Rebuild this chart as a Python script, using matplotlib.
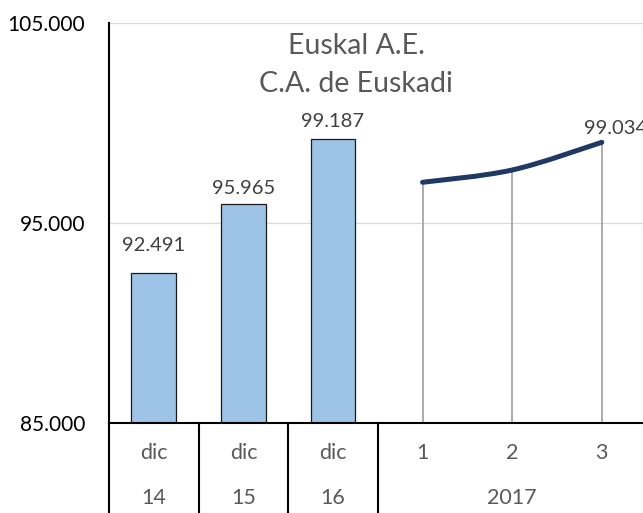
import matplotlib
matplotlib.use("Agg")
import matplotlib.pyplot as plt
from matplotlib.path import Path
from matplotlib.patches import PathPatch

plt.rcParams['font.family'] = ['Lato', 'DejaVu Sans']

# Data
bar_months = ["dic", "dic", "dic"]
bar_years = ["14", "15", "16"]
bar_values = [92491, 95965, 99187]
line_months = ["1", "2", "3"]
line_year = "2017"
line_values = [97035, 97650, 99034]
y_ticks = [85000, 95000, 105000]
title_lines = ["Euskal A.E.", "C.A. de Euskadi"]

def fmt(v):
    return f"{v:,.0f}".replace(",", ".")

W, H = 643, 513
fig = plt.figure(figsize=(W / 100, H / 100), dpi=100)
ax = fig.add_axes([109 / W, (H - 423) / H, (646.6 - 109) / W, 400 / H])

n_bar = len(bar_values)
bar_x = list(range(n_bar))
line_x = [n_bar + i for i in range(len(line_values))]

ax.set_xlim(-0.5, n_bar + len(line_values) - 0.5)
ax.set_ylim(y_ticks[0], y_ticks[-1])

# grid
for t in y_ticks[1:]:
    ax.axhline(t, color="#D9D9D9", lw=0.9, zorder=0)

# bars
ax.bar(bar_x, bar_values, width=0.5, color="#9DC3E6", edgecolor="#1a1a1a",
       linewidth=0.9, zorder=2)
label_offsets = [20, 11, 12.5]  # points above bar top
for x, v, off in zip(bar_x, bar_values, label_offsets):
    ax.annotate(fmt(v), (x, v), xytext=(0, off), textcoords="offset points",
                ha="center", va="center", fontsize=14.5, color="#404040")

# drop lines
for x, v in zip(line_x, line_values):
    ax.plot([x, x], [y_ticks[0], v], color="#A6A6A6", lw=1.3, zorder=2)

# smoothed line (Bezier through data points)
pts = list(zip(line_x, line_values))
verts = [pts[0]]
codes = [Path.MOVETO]
for i in range(len(pts) - 1):
    p0 = pts[i - 1] if i > 0 else pts[i]
    p1 = pts[i]
    p2 = pts[i + 1]
    p3 = pts[i + 2] if i + 2 < len(pts) else pts[i + 1]
    c1 = (p1[0] + (p2[0] - p0[0]) / 6, p1[1] + (p2[1] - p0[1]) / 6)
    c2 = (p2[0] - (p3[0] - p1[0]) / 6, p2[1] - (p3[1] - p1[1]) / 6)
    verts += [c1, c2, p2]
    codes += [Path.CURVE4] * 3
ax.add_patch(PathPatch(Path(verts, codes), facecolor="none", edgecolor="#203864",
                       lw=3.6, capstyle="round", joinstyle="round", zorder=3))
ax.annotate(fmt(line_values[-1]), (line_x[-1], line_values[-1]), xytext=(10, 10),
            textcoords="offset points", ha="center", va="center", fontsize=14.5,
            color="#404040", annotation_clip=False)

# axes styling
for s in ["top", "right"]:
    ax.spines[s].set_visible(False)
ax.spines["left"].set_linewidth(1.5)
ax.spines["bottom"].set_linewidth(1.5)
ax.spines["left"].set_color("black")
ax.spines["bottom"].set_color("black")
ax.set_yticks(y_ticks)
ax.set_yticklabels([fmt(t) for t in y_ticks], fontsize=15, color="black")
ax.tick_params(axis="y", length=0, pad=17)
ax.set_xticks([])

# category axis table
trans = ax.get_xaxis_transform()
bottom = -0.23
for xd in [-0.5, 0.5, 1.5, 2.5]:
    ax.plot([xd, xd], [0, bottom], color="black", lw=1.5, transform=trans,
            clip_on=False)
row1, row2 = -0.076, -0.188
cat_fs = 15.5
for x, m, yv in zip(bar_x, bar_months, bar_years):
    ax.text(x, row1, m, transform=trans, ha="center", va="center",
            fontsize=cat_fs, color="#595959")
    ax.text(x, row2, yv, transform=trans, ha="center", va="center",
            fontsize=cat_fs, color="#595959")
for x, m in zip(line_x, line_months):
    ax.text(x, row1, m, transform=trans, ha="center", va="center",
            fontsize=cat_fs, color="#595959")
ax.text(line_x[1], row2, line_year, transform=trans, ha="center", va="center",
        fontsize=cat_fs, color="#595959")

# title
fig.text(356 / W, 1 - 46 / H, title_lines[0], ha="center", va="center",
         fontsize=20.5, color="#595959")
fig.text(356 / W, 1 - 84 / H, title_lines[1], ha="center", va="center",
         fontsize=20.5, color="#595959")

fig.savefig("out.png", dpi=100)
